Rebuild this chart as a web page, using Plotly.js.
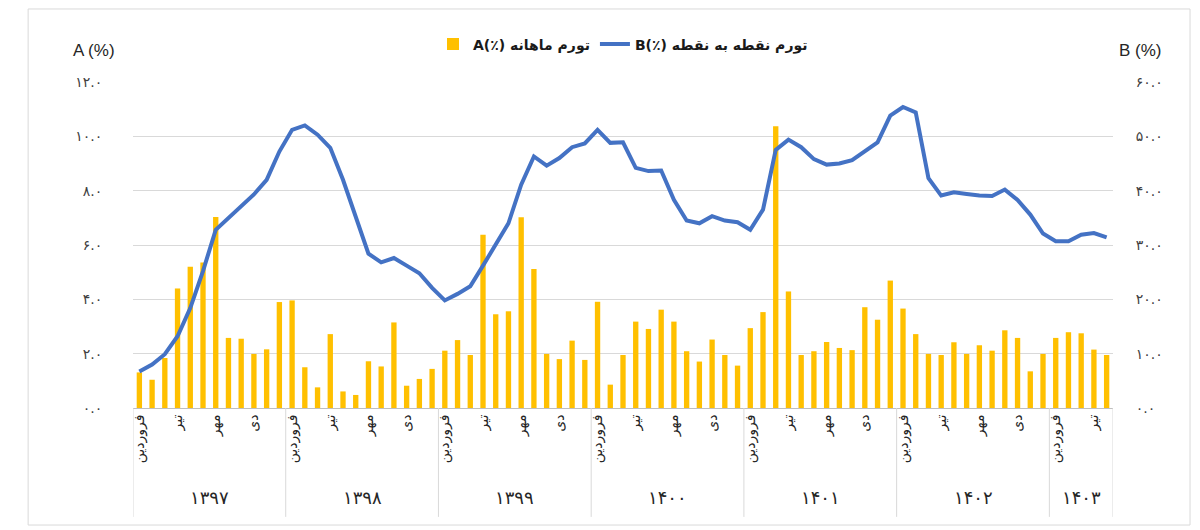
<!DOCTYPE html>
<html>
<head>
<meta charset="utf-8">
<script src="https://cdn.plot.ly/plotly-3.0.1.min.js"></script>
<style>
  html, body { margin: 0; padding: 0; background: #ffffff; }
  #chart { width: 1200px; height: 530px; }
</style>
</head>
<body>
<div id="chart"></div>
<script>
// ---- data ----
const years = ['۱۳۹۷', '۱۳۹۸', '۱۳۹۹', '۱۴۰۰', '۱۴۰۱', '۱۴۰۲', '۱۴۰۳'];
const monthsPerYear = [12, 12, 12, 12, 12, 12, 5];
const monthNames = ['فروردین', 'اردیبهشت', 'خرداد', 'تیر', 'مرداد', 'شهریور', 'مهر', 'آبان', 'آذر', 'دی', 'بهمن', 'اسفند'];
const labelledMonths = ['فروردین', 'تیر', 'مهر', 'دی'];

// monthly inflation A (%)
const monthlyA = [
  1.31, 1.04, 1.84, 4.40, 5.20, 5.36, 7.03, 2.58, 2.55, 1.99, 2.16, 3.90,
  3.96, 1.50, 0.76, 2.72, 0.61, 0.48, 1.72, 1.53, 3.15, 0.82, 1.07, 1.44,
  2.11, 2.50, 1.95, 6.38, 3.45, 3.56, 7.02, 5.12, 1.99, 1.80, 2.48, 1.77,
  3.91, 0.86, 1.95, 3.18, 2.91, 3.62, 3.18, 2.09, 1.71, 2.52, 1.95, 1.56,
  2.94, 3.53, 10.37, 4.29, 1.95, 2.09, 2.43, 2.21, 2.13, 3.71, 3.25, 4.69,
  3.66, 2.72, 1.99, 1.95, 2.42, 1.99, 2.31, 2.11, 2.86, 2.58, 1.35, 1.99,
  2.58, 2.79, 2.75, 2.15, 1.95
];

// point-to-point inflation B (%)
const pointB = [
  6.7, 8.0, 9.9, 13.2, 18.4, 25.2, 32.8, 35.0, 37.1, 39.3, 42.0, 47.2,
  51.2, 52.0, 50.3, 47.9, 42.0, 35.3, 28.4, 26.8, 27.6, 26.2, 24.8, 22.1,
  19.8, 21.0, 22.4, 26.2, 30.1, 34.0, 41.1, 46.3, 44.6, 46.0, 48.0, 48.7,
  51.2, 48.8, 48.9, 44.2, 43.6, 43.7, 38.3, 34.5, 34.0, 35.3, 34.5, 34.2,
  32.8, 36.5, 47.5, 49.4, 48.0, 45.8, 44.8, 45.0, 45.6, 47.2, 48.9, 53.8,
  55.4, 54.4, 42.3, 39.1, 39.7, 39.4, 39.1, 39.0, 40.2, 38.3, 35.6, 32.1,
  30.7, 30.7, 31.9, 32.2, 31.4
];

const aTicks = [0, 2, 4, 6, 8, 10, 12];
const bTicks = [0, 10, 20, 30, 40, 50, 60];
const nameA = 'A(٪) تورم ماهانه';
const nameB = 'B(٪) تورم نقطه به نقطه';

// ---- build categories ----
const fa = s => String(s).replace(/[0-9]/g, d => '۰۱۲۳۴۵۶۷۸۹'[d]);
const cats = [], tickVals = [], tickText = [];
const yearStart = [];
years.forEach((y, yi) => {
  yearStart.push(cats.length);
  for (let m = 0; m < monthsPerYear[yi]; m++) {
    const id = y + '-' + monthNames[m];
    cats.push(id);
    if (labelledMonths.includes(monthNames[m])) {
      tickVals.push(id);
      tickText.push(monthNames[m]);
    }
  }
});

const FONT = 'DejaVu Sans, sans-serif';
const GRID = '#d9d9d9';

const traces = [
  {
    type: 'bar', x: cats, y: monthlyA, name: nameA,
    marker: { color: '#FFC000' }, yaxis: 'y', hoverinfo: 'skip'
  },
  {
    type: 'scatter', mode: 'lines', x: cats, y: pointB, name: nameB,
    line: { color: '#4472C4', width: 4 }, yaxis: 'y2', hoverinfo: 'skip'
  }
];

const shapes = [];
// outer chart border
shapes.push({ type: 'rect', xref: 'paper', yref: 'paper', x0: -0.107, x1: 1.0786, y0: -0.359, y1: 1.224,
  line: { color: GRID, width: 1 }, fillcolor: 'rgba(0,0,0,0)', layer: 'below' });
// year dividers under axis
const bounds = yearStart.concat([cats.length]);
bounds.forEach(b => {
  shapes.push({ type: 'line', xref: 'x', yref: 'paper', x0: b - 0.5, x1: b - 0.5, y0: -0.334, y1: 0,
    line: { color: GRID, width: 1 } });
});

const annotations = [];
years.forEach((y, yi) => {
  annotations.push({ xref: 'x', yref: 'paper', x: yearStart[yi] + (monthsPerYear[yi] - 1) / 2, y: -0.275,
    text: y, showarrow: false, font: { family: FONT, size: 18, color: '#262626' }, yanchor: 'middle' });
});
annotations.push({ xref: 'paper', yref: 'paper', x: -0.016, y: 1.098, xanchor: 'right', yanchor: 'middle',
  text: 'A (%)', showarrow: false, font: { family: 'Liberation Sans, Arial, sans-serif', size: 17, color: '#262626' } });
annotations.push({ xref: 'paper', yref: 'paper', x: 1.004, y: 1.098, xanchor: 'left', yanchor: 'middle',
  text: 'B (%)', showarrow: false, font: { family: 'Liberation Sans, Arial, sans-serif', size: 17, color: '#262626' } });

const layout = {
  width: 1200, height: 530,
  margin: { l: 133, r: 87, t: 82, b: 122, pad: 0 },
  paper_bgcolor: '#ffffff', plot_bgcolor: '#ffffff',
  font: { family: FONT, color: '#404040' },
  bargap: 0.58,
  showlegend: true,
  legend: { orientation: 'h', x: 0.5, xanchor: 'center', y: 1.115, yanchor: 'middle',
    font: { family: FONT, size: 14, color: '#1a1a1a', weight: 'bold' }, traceorder: 'normal' },
  xaxis: {
    type: 'category', categoryorder: 'array', categoryarray: cats,
    tickvals: tickVals, ticktext: tickText, tickangle: -90,
    tickfont: { family: FONT, size: 14, color: '#262626' },
    showline: true, linecolor: '#bfbfbf', linewidth: 1,
    showgrid: false, ticks: '', zeroline: false, range: [-0.5, cats.length - 0.5]
  },
  yaxis: {
    range: [0, 12], tickvals: aTicks, ticktext: aTicks.map(v => fa(v.toFixed(1))),
    showgrid: true, gridcolor: GRID, gridwidth: 1, zeroline: false,
    ticks: 'outside', ticklen: 27, tickcolor: 'rgba(0,0,0,0)',
    tickfont: { family: FONT, size: 14, color: '#404040' }
  },
  yaxis2: {
    overlaying: 'y', side: 'right', range: [0, 60], tickvals: bTicks, ticktext: bTicks.map(v => fa(v.toFixed(1))),
    showgrid: false, zeroline: false,
    ticks: 'outside', ticklen: 19, tickcolor: 'rgba(0,0,0,0)',
    tickfont: { family: FONT, size: 14, color: '#404040' }
  },
  shapes: shapes,
  annotations: annotations
};

Plotly.newPlot('chart', traces, layout, { staticPlot: true, displayModeBar: false });
</script>
</body>
</html>
